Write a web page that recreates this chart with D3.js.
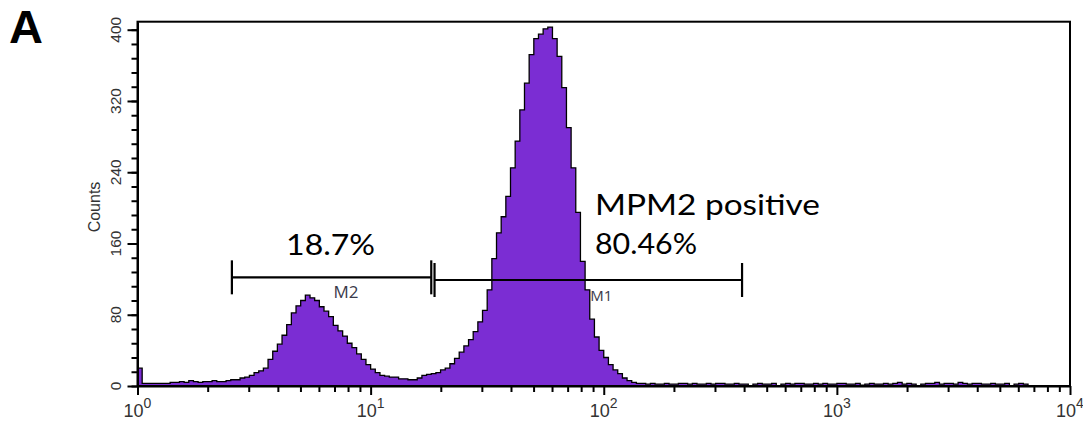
<!DOCTYPE html>
<html>
<head>
<meta charset="utf-8">
<script src="https://cdn.jsdelivr.net/npm/d3@7"></script>
<style>
  html, body { margin: 0; padding: 0; background: #fff; }
  svg { display: block; }
</style>
</head>
<body>
<script>
// Channel width of the histogram, in decades of fluorescence intensity
const LOG_STEP = 0.02;

// Event counts per channel, channel i starting at 10^(i*LOG_STEP)
const counts = [
  20, 3, 3, 3, 3, 3, 3, 4, 4, 5,
  4, 6, 5, 4, 5, 5, 6, 5, 5, 6,
  7, 7, 9, 10, 12, 15, 17, 20, 30, 39,
  47, 57, 69, 82, 90, 96, 102, 99, 96, 89,
  84, 78, 68, 62, 56, 48, 43, 36, 30, 24,
  19, 15, 12, 11, 10, 10, 8, 8, 7, 7,
  9, 12, 13, 14, 15, 18, 20, 25, 31, 38,
  45, 52, 61, 72, 85, 108, 143, 172, 190, 213,
  245, 275, 310, 340, 372, 390, 395, 401, 403, 390,
  370, 335, 290, 245, 195, 140, 108, 75, 55, 40,
  32, 24, 18, 14, 9, 6, 4, 3, 3, 2,
  3, 2, 2, 3, 2, 2, 3, 3, 2, 3,
  2, 2, 3, 2, 3, 3, 2, 2, 3, 2,
  2, 0, 2, 3, 2, 2, 3, 0, 2, 3,
  2, 3, 3, 2, 2, 3, 2, 3, 2, 2,
  3, 3, 2, 2, 3, 1, 2, 3, 2, 2,
  3, 2, 3, 4, 2, 3, 2, 0, 2, 3,
  3, 4, 2, 3, 3, 2, 4, 3, 2, 3,
  3, 2, 2, 3, 2, 2, 3, 0, 2, 3,
  2, 0, 0, 0, 0, 0, 0, 0, 0, 0
];

// Axis ticks
const yTicks = [0, 80, 160, 240, 320, 400];
const yMinorTicks = d3.range(0, 401, 16);
const xDecades = [0, 1, 2, 3, 4];

// Gates: name, lower bound, upper bound, drawing level (counts)
const markerNames = ["M2", "M1"];
const markerStart = [2.54, 18.8];
const markerEnd = [18.2, 392];
const markerLevel = [122, 119];

// Gate percentages
const gateTexts = [["18.7%"], ["MPM2 positive", "80.46%"]];

const W = 1083, H = 427;
const svg = d3.select("body").append("svg").attr("width", W).attr("height", H);

const x = d3.scaleLog().domain([1, 1e4]).range([137.5, 1070]);
const y = d3.scaleLinear().domain([0, 409]).range([386, 21.7]);

// Histogram
const bins = counts.map((c, i) => ({ v: Math.pow(10, i * LOG_STEP), c }));
bins.push({ v: 1e4, c: counts[counts.length - 1] });

svg.append("clipPath").attr("id", "plotClip")
  .append("rect")
  .attr("x", x.range()[0]).attr("y", y.range()[1])
  .attr("width", x.range()[1] - x.range()[0])
  .attr("height", y.range()[0] - y.range()[1]);

const plot = svg.append("g").attr("clip-path", "url(#plotClip)");

plot.append("path")
  .datum(bins)
  .attr("fill", "#7b2dd3")
  .attr("d", d3.area()
    .x(d => x(d.v)).y0(y(0)).y1(d => y(d.c))
    .curve(d3.curveStepAfter));

plot.append("path")
  .datum(bins)
  .attr("fill", "none")
  .attr("stroke", "#000")
  .attr("stroke-width", 1.3)
  .attr("d", d3.line()
    .x(d => x(d.v)).y(d => y(d.c))
    .curve(d3.curveStepAfter));

// Frame
svg.append("rect")
  .attr("x", x.range()[0]).attr("y", y.range()[1])
  .attr("width", x.range()[1] - x.range()[0])
  .attr("height", y.range()[0] - y.range()[1])
  .attr("fill", "none").attr("stroke", "#000").attr("stroke-width", 2);

// Y axis
const yMinor = svg.append("g").attr("transform", `translate(${x.range()[0]},0)`)
  .call(d3.axisLeft(y).tickValues(yMinorTicks).tickSize(6).tickSizeOuter(0).tickFormat(""));
yMinor.select(".domain").remove();
yMinor.selectAll("line").attr("stroke-width", 2);

const yMajor = svg.append("g").attr("transform", `translate(${x.range()[0]},0)`)
  .call(d3.axisLeft(y).tickValues(yTicks).tickSize(10).tickSizeOuter(0).tickFormat(""));
yMajor.select(".domain").attr("stroke-width", 2);
yMajor.selectAll("line").attr("stroke-width", 2);

svg.append("g").selectAll("text")
  .data(yTicks)
  .join("text")
  .attr("transform", d => `translate(121,${y(d)}) rotate(-90)`)
  .attr("text-anchor", "middle")
  .attr("font-family", "Liberation Sans, Arial, sans-serif")
  .attr("font-size", 15.5)
  .attr("fill", "#333")
  .text(d => d);

svg.append("text")
  .attr("transform", `translate(100,207) rotate(-90)`)
  .attr("text-anchor", "middle")
  .attr("font-family", "Liberation Sans, Arial, sans-serif")
  .attr("font-size", 16)
  .attr("fill", "#333")
  .text("Counts");

// X axis
const xMinorValues = [];
xDecades.slice(0, -1).forEach(d => {
  for (let k = 2; k <= 9; k++) xMinorValues.push(k * Math.pow(10, d));
});

const xMinor = svg.append("g").attr("transform", `translate(0,${y(0)})`)
  .call(d3.axisBottom(x).tickValues(xMinorValues).tickSize(6).tickSizeOuter(0).tickFormat(""));
xMinor.select(".domain").remove();
xMinor.selectAll("line").attr("stroke-width", 2);

const xMajor = svg.append("g").attr("transform", `translate(0,${y(0)})`)
  .call(d3.axisBottom(x).tickValues(xDecades.map(d => Math.pow(10, d))).tickSize(9).tickSizeOuter(0).tickFormat(""));
xMajor.select(".domain").attr("stroke-width", 2);
xMajor.selectAll("line").attr("stroke-width", 2);

const xLabels = svg.append("g").selectAll("text")
  .data(xDecades)
  .join("text")
  .attr("x", d => x(Math.pow(10, d)))
  .attr("y", 417)
  .attr("text-anchor", "middle")
  .attr("font-family", "Liberation Sans, Arial, sans-serif")
  .attr("fill", "#333");
xLabels.append("tspan").attr("font-size", 18).text("10");
xLabels.append("tspan").attr("font-size", 14).attr("dy", -9).text(d => d);

// Gate markers
const markers = svg.append("g");
markerNames.forEach((name, i) => {
  const x0 = x(markerStart[i]), x1 = x(markerEnd[i]), yl = y(markerLevel[i]);
  const g = markers.append("g").attr("stroke", "#000").attr("stroke-width", 2.2);
  g.append("line").attr("x1", x0).attr("x2", x1).attr("y1", yl).attr("y2", yl);
  g.append("line").attr("x1", x0).attr("x2", x0).attr("y1", yl - 17).attr("y2", yl + 17);
  g.append("line").attr("x1", x1).attr("x2", x1).attr("y1", yl - 17).attr("y2", yl + 17);
  const mid = x(Math.sqrt(markerStart[i] * markerEnd[i]));
  markers.append("text")
    .attr("x", mid + 2)
    .attr("y", yl + 21)
    .attr("font-family", "Open Sans, sans-serif")
    .attr("font-size", i === 0 ? 17 : 15)
    .attr("fill", "#3a3a4a")
    .text(name);
});

// Gate percentages
const pctFont = "Lato, 'Open Sans', sans-serif";
svg.append("text")
  .attr("x", x(Math.sqrt(markerStart[0] * markerEnd[0])) - 1)
  .attr("y", 255)
  .attr("text-anchor", "middle")
  .attr("font-family", pctFont).attr("font-size", 29)
  .attr("textLength", 89).attr("lengthAdjust", "spacingAndGlyphs")
  .text(gateTexts[0][0]);

svg.append("text")
  .attr("x", 595).attr("y", 215)
  .attr("font-family", pctFont).attr("font-size", 29)
  .attr("textLength", 225).attr("lengthAdjust", "spacingAndGlyphs")
  .text(gateTexts[1][0]);

svg.append("text")
  .attr("x", 595).attr("y", 254)
  .attr("font-family", pctFont).attr("font-size", 29)
  .attr("textLength", 102).attr("lengthAdjust", "spacingAndGlyphs")
  .text(gateTexts[1][1]);

// Panel letter
svg.append("text")
  .attr("x", 9).attr("y", 43)
  .attr("font-family", "Liberation Sans, Arial, sans-serif")
  .attr("font-weight", "bold")
  .attr("font-size", 47)
  .text("A");
</script>
</body>
</html>
